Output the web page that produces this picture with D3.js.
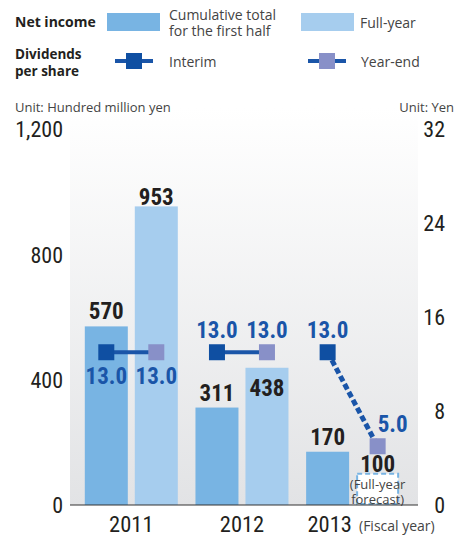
<!DOCTYPE html>
<html>
<head>
<meta charset="utf-8">
<script src="https://cdn.jsdelivr.net/npm/d3@7"></script>
<style>
  body { margin: 0; background: #fff; }
  svg { display: block; }
  .cond { font-family: "Liberation Sans Narrow", "Roboto Condensed", "DejaVu Sans Condensed", Roboto, sans-serif; }
  .sans { font-family: "Open Sans", "Noto Sans", sans-serif; }
</style>
</head>
<body>
<svg id="chart" width="468" height="536"></svg>
<script>
const years = ["2011", "2012", "2013"];
const firstHalf = [570, 311, 170];
const fullYear = [953, 438, 100];
const interim = [13.0, 13.0, 13.0];
const yearEnd = [13.0, 13.0, 5.0];
const forecast = [false, false, true];
const leftTicks = [0, 400, 800, 1200];
const rightTicks = [0, 8, 16, 24, 32];

const svg = d3.select("#chart");
const blueDark = "#78b4e3", blueLight = "#a6cdee";
const navy = "#0f4fa2", lilac = "#8890c8", lineBlue = "#1a55a8";

const y = d3.scaleLinear().domain([0, 1200]).range([505, 129]);
const y2 = d3.scaleLinear().domain([0, 32]).range([505, 129]);
const x = d3.scaleBand().domain(years).range([76, 408]);
const xs = d3.scaleBand().domain(["half", "full"]).range([8.8, 101.8]).paddingInner(0.14);

// plot background
const grad = svg.append("defs").append("linearGradient")
    .attr("id", "bg").attr("x1", 0).attr("y1", 0).attr("x2", 0).attr("y2", 1);
grad.append("stop").attr("offset", "0%").attr("stop-color", "#ffffff");
grad.append("stop").attr("offset", "100%").attr("stop-color", "#e2e3e5");
svg.append("rect").attr("x", 70).attr("y", 108).attr("width", 348).attr("height", 397)
    .attr("fill", "url(#bg)");

// legend
const lg = svg.append("g").attr("class", "sans");
lg.append("text").attr("x", 15).attr("y", 27).text("Net income")
    .attr("font-size", 14).attr("font-weight", "bold").attr("fill", "#231f20");
lg.append("text").attr("x", 15).attr("y", 59).text("Dividends")
    .attr("font-size", 13.5).attr("font-weight", "bold").attr("fill", "#231f20");
lg.append("text").attr("x", 15).attr("y", 76).text("per share")
    .attr("font-size", 13.5).attr("font-weight", "bold").attr("fill", "#231f20");
lg.append("rect").attr("x", 107).attr("y", 13).attr("width", 53).attr("height", 18).attr("fill", blueDark);
lg.append("rect").attr("x", 301).attr("y", 13).attr("width", 53).attr("height", 18).attr("fill", blueLight);
lg.append("text").attr("x", 169).attr("y", 20).text("Cumulative total").attr("font-size", 14).attr("fill", "#444");
lg.append("text").attr("x", 169).attr("y", 36).text("for the first half").attr("font-size", 14).attr("fill", "#444");
lg.append("text").attr("x", 360).attr("y", 28).text("Full-year").attr("font-size", 14).attr("fill", "#444");
[[115, navy, "Interim", 169], [308, lilac, "Year-end", 361]].forEach(([lx, c, t, tx]) => {
  lg.append("line").attr("x1", lx).attr("x2", lx + 38).attr("y1", 61).attr("y2", 61)
      .attr("stroke", lineBlue).attr("stroke-width", 4);
  lg.append("rect").attr("x", lx + 11).attr("y", 53).attr("width", 16).attr("height", 16).attr("fill", c);
  lg.append("text").attr("x", tx).attr("y", 67).text(t).attr("font-size", 14).attr("fill", "#444");
});
lg.append("text").attr("x", 15).attr("y", 112).text("Unit: Hundred million yen").attr("font-size", 13).attr("fill", "#444");
lg.append("text").attr("x", 454).attr("y", 112).attr("text-anchor", "end").text("Unit: Yen").attr("font-size", 13).attr("fill", "#444");

// axes
const leftAxis = svg.append("g").attr("class", "cond").attr("transform", "translate(70,0)")
    .call(d3.axisLeft(y).tickValues(leftTicks).tickFormat(d3.format(",")).tickSize(0).tickPadding(7));
const rightAxis = svg.append("g").attr("class", "cond").attr("transform", "translate(445,0)")
    .call(d3.axisLeft(y2).tickValues(rightTicks).tickSize(0).tickPadding(0));
const bottomAxis = svg.append("g").attr("class", "cond").attr("transform", "translate(0,505)")
    .call(d3.axisBottom(x).tickSize(0).tickPadding(11));
[leftAxis, rightAxis, bottomAxis].forEach(g => {
  g.select(".domain").remove();
  g.selectAll("text").attr("font-family", null).attr("fill", "#231f20").attr("font-size", 22);
});
bottomAxis.selectAll("text").attr("font-size", 22.5)
    .attr("dx", (d, i) => i === years.length - 1 ? -23 : 0);
leftAxis.selectAll("text").attr("dy", "0.36em");
rightAxis.selectAll("text").attr("dy", "0.36em");

svg.append("text").attr("class", "sans").attr("x", 359).attr("y", 531)
    .text("(Fiscal year)").attr("font-size", 14).attr("fill", "#444");

// bars
const rows = years.map((yr, i) => ({ yr, i, half: firstHalf[i], full: fullYear[i], forecast: forecast[i] }));
const gBars = svg.append("g");
gBars.selectAll(".half").data(rows).join("rect")
    .attr("x", d => x(d.yr) + xs("half")).attr("width", xs.bandwidth())
    .attr("y", d => y(d.half)).attr("height", d => y(0) - y(d.half))
    .attr("fill", blueDark);
gBars.selectAll(".full").data(rows).join("rect")
    .attr("x", d => x(d.yr) + xs("full") + (d.forecast ? 1 : 0))
    .attr("width", d => xs.bandwidth() - (d.forecast ? 2 : 0))
    .attr("y", d => y(d.full)).attr("height", d => y(0) - y(d.full) - (d.forecast ? 1 : 0))
    .attr("fill", d => d.forecast ? "#fff" : blueLight)
    .attr("stroke", d => d.forecast ? blueDark : "none")
    .attr("stroke-width", 2)
    .attr("stroke-dasharray", d => d.forecast ? "5,3" : null);

svg.append("line").attr("x1", 70).attr("x2", 418).attr("y1", 505).attr("y2", 505)
    .attr("stroke", "#333").attr("stroke-width", 1.2);

// bar value labels
const cx = (d, k) => x(d.yr) + xs(k) + xs.bandwidth() / 2;
const gLab = svg.append("g").attr("class", "cond").attr("font-weight", "bold")
    .attr("font-size", 23).attr("text-anchor", "middle").attr("fill", "#231f20");
gLab.selectAll(".lh").data(rows).join("text")
    .attr("x", d => cx(d, "half")).attr("y", d => y(d.half) - 7).text(d => d.half);
gLab.selectAll(".lf").data(rows).join("text")
    .attr("x", d => cx(d, "full"))
    .attr("y", d => d.i === 1 ? y(d.full) + 28 : y(d.full) - (d.forecast ? 2 : 1))
    .text(d => d.full);
svg.append("g").attr("class", "sans").attr("font-size", 13).attr("fill", "#444").attr("text-anchor", "middle")
  .selectAll("text").data(["(Full-year", "forecast)"]).join("text")
    .attr("x", cx(rows[2], "full")).attr("y", (d, j) => 489 + j * 14.5).text(d => d);

// dividends
const gDiv = svg.append("g");
gDiv.selectAll("line").data(rows).join("line")
    .attr("x1", d => cx(d, "half")).attr("y1", d => y2(interim[d.i]))
    .attr("x2", d => cx(d, "full")).attr("y2", d => y2(yearEnd[d.i]))
    .attr("stroke", lineBlue).attr("stroke-width", d => d.forecast ? 5 : 4)
    .attr("stroke-dasharray", d => d.forecast ? "6,3" : null);
gDiv.selectAll(".si").data(rows).join("rect")
    .attr("x", d => cx(d, "half") - 8).attr("y", d => y2(interim[d.i]) - 8)
    .attr("width", 16).attr("height", 16).attr("fill", navy);
gDiv.selectAll(".se").data(rows).join("rect")
    .attr("x", d => cx(d, "full") - 8).attr("y", d => y2(yearEnd[d.i]) - 8)
    .attr("width", 16).attr("height", 16).attr("fill", lilac);

const fmt = d3.format(".1f");
const gDl = svg.append("g").attr("class", "cond").attr("font-weight", "bold")
    .attr("font-size", 23).attr("fill", lineBlue).attr("text-anchor", "middle");
gDl.selectAll(".di").data(rows).join("text")
    .attr("x", d => cx(d, "half"))
    .attr("y", d => y2(interim[d.i]) + (d.i === 0 ? 32 : -14))
    .text(d => fmt(interim[d.i]));
gDl.selectAll(".de").data(rows).join("text")
    .attr("x", d => cx(d, "full") + (d.forecast ? 15 : 0))
    .attr("y", d => y2(yearEnd[d.i]) + (d.i === 0 ? 32 : -14))
    .text(d => fmt(yearEnd[d.i]));
</script>
</body>
</html>
